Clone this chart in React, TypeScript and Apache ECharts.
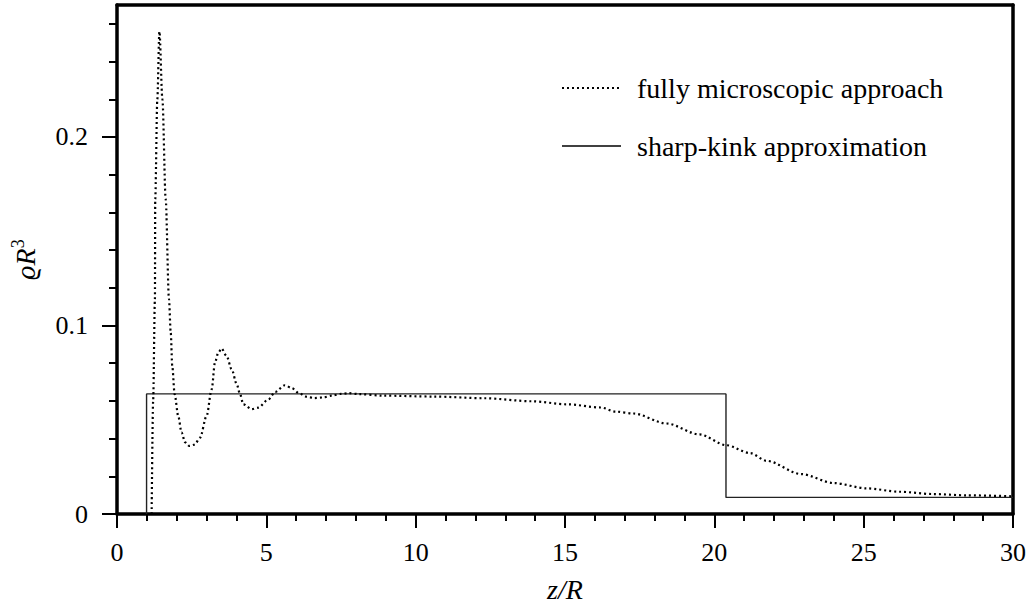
import React, { useEffect, useRef } from "react";
import * as echarts from "echarts";

const seriesNames = ["fully microscopic approach", "sharp-kink approximation"];

// fully microscopic density profile (z/R, rho R^3)
const microZ = [
  1.16, 1.21, 1.27, 1.28, 1.35, 1.42, 1.52, 1.63, 1.74, 1.8, 1.85, 1.93, 2.05, 2.16, 2.28, 2.42,
  2.6, 2.78, 3.0, 3.17, 3.28, 3.39, 3.5, 3.67, 3.84, 4.01, 4.12, 4.23, 4.51, 4.73, 5.07, 5.3,
  5.62, 5.85, 6.1, 6.35, 6.6, 6.9, 7.2, 7.5, 7.75, 8.1, 8.9, 10.6, 12.3, 13.9, 15.05, 16.2,
  16.7, 17.3, 18.4, 19.5, 20.4, 21.2, 21.75, 22.9, 24.0, 25.1, 26.2, 27.3, 28.45, 30.0,
];
const microRho = [
  0.0, 0.06, 0.114, 0.167, 0.22, 0.256, 0.22, 0.167, 0.114, 0.096, 0.0785, 0.0635, 0.052, 0.0433, 0.038, 0.0361,
  0.0368, 0.0405, 0.052, 0.0661, 0.0803, 0.0855, 0.0878, 0.0838, 0.0767, 0.0688, 0.0635, 0.0582, 0.0556, 0.0564, 0.0608, 0.0648,
  0.0683, 0.0668, 0.064, 0.0622, 0.0615, 0.0618, 0.0628, 0.0637, 0.0641, 0.0636, 0.0628, 0.0623, 0.0614, 0.0598, 0.0582, 0.0565,
  0.0543, 0.0533, 0.048, 0.0422, 0.0365, 0.0323, 0.0282, 0.0212, 0.0164, 0.0136, 0.0118, 0.0106, 0.0099, 0.0094,
];

// sharp-kink approximation (step profile)
const kinkZ = [0.99, 0.99, 20.39, 20.39, 30.0];
const kinkRho = [0.0, 0.0637, 0.0637, 0.0088, 0.0088];

const xMajorTicks = [0, 5, 10, 15, 20, 25, 30];
const yMajorTicks = [0, 0.1, 0.2];
const yMinorTicks = [0.02, 0.04, 0.06, 0.08, 0.12, 0.14, 0.16, 0.18, 0.22, 0.24, 0.26];

const FONT = "'Liberation Serif', 'DejaVu Serif', serif";

export default function App() {
  const ref = useRef<HTMLDivElement>(null);
  useEffect(() => {
    if (!ref.current) return;
    const chart = echarts.init(ref.current, undefined, { renderer: "svg" });
    const microData = microZ.map((z, i) => [z, microRho[i]]);
    const kinkData = kinkZ.map((z, i) => [z, kinkRho[i]]);
    const legendText = { fontSize: 28, fontFamily: FONT, fill: "#000" };
    const frame = { show: true, onZero: false, lineStyle: { color: "#000", width: 3.5 } };
    chart.setOption({
      animation: false,
      backgroundColor: "#fff",
      grid: {
        left: 117,
        right: 21,
        top: 5,
        bottom: 93,
        show: false,
      },
      graphic: [
        {
          type: "line",
          shape: { x1: 562, y1: 88, x2: 621, y2: 88 },
          style: { stroke: "#000", lineWidth: 2.2, lineDash: [2, 3] },
        },
        {
          type: "text",
          x: 637,
          y: 88,
          style: { ...legendText, text: seriesNames[0], verticalAlign: "middle" },
        },
        {
          type: "line",
          shape: { x1: 562, y1: 146, x2: 621, y2: 146 },
          style: { stroke: "#000", lineWidth: 1.4 },
        },
        {
          type: "text",
          x: 637,
          y: 146,
          style: { ...legendText, text: seriesNames[1], verticalAlign: "middle" },
        },
      ],
      xAxis: [
        {
          type: "value",
          min: 0,
          max: 30,
          interval: 5,
          position: "bottom",
          axisLine: frame,
          axisTick: { show: true, inside: false, length: 14, customValues: xMajorTicks, lineStyle: { color: "#000", width: 2 } },
          minorTick: { show: true, splitNumber: 5, length: 7, lineStyle: { color: "#000", width: 2 } },
          splitLine: { show: false },
          axisLabel: {
            customValues: xMajorTicks,
            fontSize: 26,
            fontFamily: FONT,
            color: "#000",
            margin: 25,
          },
          name: "z/R",
          nameLocation: "middle",
          nameGap: 61,
          nameTextStyle: { fontSize: 28, fontFamily: FONT, fontStyle: "italic", color: "#000" },
        },
        {
          type: "value",
          min: 0,
          max: 30,
          position: "top",
          axisLine: frame,
          axisTick: { show: false },
          axisLabel: { show: false },
          splitLine: { show: false },
        },
      ],
      yAxis: [
        {
          type: "value",
          min: 0,
          max: 0.27,
          position: "left",
          axisLine: frame,
          axisTick: { show: true, inside: false, length: 15, customValues: yMajorTicks, lineStyle: { color: "#000", width: 2 } },
          splitLine: { show: false },
          axisLabel: {
            customValues: yMajorTicks,
            formatter: (v: number) => (v === 0 ? "0" : v.toFixed(1)),
            fontSize: 26,
            fontFamily: FONT,
            color: "#000",
            margin: 29,
          },
          name: "{a|ϱR}{b|3}",
          nameLocation: "middle",
          nameGap: 76,
          nameTextStyle: {
            color: "#000",
            rich: {
              a: { fontSize: 28, fontFamily: FONT, fontStyle: "italic", color: "#000" },
              b: { fontSize: 18, fontFamily: FONT, color: "#000", padding: [0, 0, 14, 0] },
            },
          },
        },
        {
          type: "value",
          min: 0,
          max: 0.27,
          position: "left",
          axisLine: { show: false },
          axisTick: { show: true, inside: false, length: 8, customValues: yMinorTicks, lineStyle: { color: "#000", width: 2 } },
          axisLabel: { show: false },
          splitLine: { show: false },
        },
        {
          type: "value",
          min: 0,
          max: 0.27,
          position: "right",
          axisLine: frame,
          axisTick: { show: false },
          axisLabel: { show: false },
          splitLine: { show: false },
        },
      ],
      series: [
        {
          name: seriesNames[0],
          type: "line",
          data: microData,
          symbol: "none",
          smooth: 0.3,
          smoothMonotone: "x",
          lineStyle: { color: "#000", width: 2.2, type: [2, 3] },
          itemStyle: { color: "#000" },
          z: 3,
        },
        {
          name: seriesNames[1],
          type: "line",
          data: kinkData,
          symbol: "none",
          lineStyle: { color: "#222", width: 1.4, type: "solid" },
          itemStyle: { color: "#000" },
          z: 2,
        },
      ],
    });
    return () => chart.dispose();
  }, []);
  return (
    <div
      ref={ref}
      style={{ position: "fixed", left: 0, top: 0, width: 1034, height: 608, background: "#fff" }}
    />
  );
}
